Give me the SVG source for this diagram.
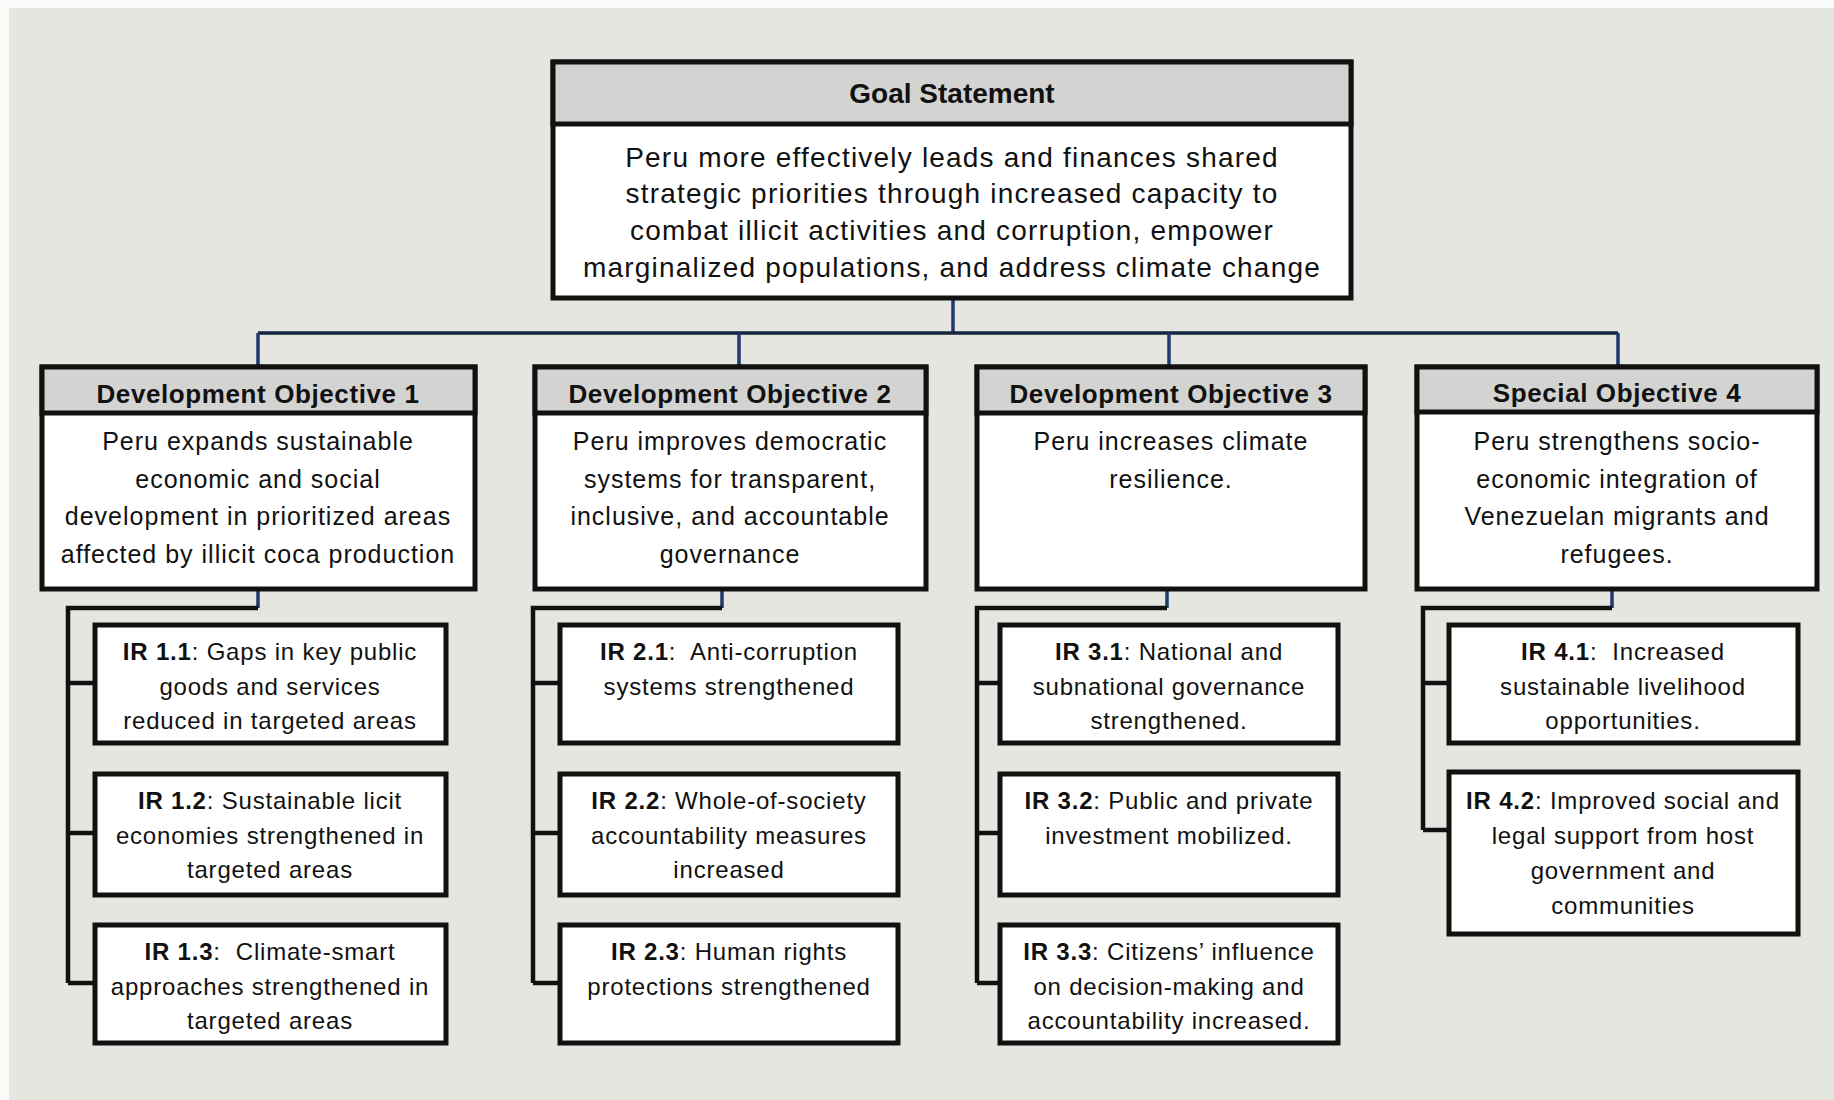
<svg xmlns="http://www.w3.org/2000/svg" width="1834" height="1100" viewBox="0 0 1834 1100">
<style>
.box{fill:#fff;stroke:#111;stroke-width:5}
.hdr{fill:#d3d3d1;stroke:#111;stroke-width:5}
.t{font-family:"Liberation Sans",Arial,sans-serif;fill:#111;text-anchor:middle}
.gt{font-size:28px;font-weight:bold}
.gb{font-size:28px;letter-spacing:1.2px}
.dt{font-size:26px;font-weight:bold;letter-spacing:0.6px}
.db{font-size:25px;letter-spacing:1px}
.ir{font-size:24px;letter-spacing:0.8px}
.b{font-weight:bold}
.bus{stroke:#16233f;stroke-width:3.5;fill:none}
.drop{stroke:#1f3a6e;stroke-width:3.5;fill:none}
.sp{stroke:#111;stroke-width:4.5;fill:none}
</style>
<rect x="0" y="0" width="1834" height="1100" fill="#fbfbfa"/>
<rect x="9" y="8" width="1825" height="1092" fill="#e6e6e1"/>

<g id="connectors">
<path class="drop" d="M953 300V333"/>
<path class="bus" d="M258 333H1618"/>
<path class="drop" d="M258 333V366M739 333V366M1169 333V366M1618 333V366"/>
<path class="drop" d="M258 591V608M722 591V608M1167 591V608M1612 591V608"/>
<path class="sp" d="M258 608H68V983M68 683H93M68 833H93M68 983H93"/>
<path class="sp" d="M722 608H533V983M533 683H558M533 833H558M533 983H558"/>
<path class="sp" d="M1167 608H977V983M977 683H998M977 833H998M977 983H998"/>
<path class="sp" d="M1612 608H1423V830M1423 683H1447M1423 830H1447"/>
</g>

<g id="goal">
<rect class="box" x="553" y="62" width="798" height="236"/>
<rect class="hdr" x="553" y="62" width="798" height="62"/>
<text class="t gt" x="952" y="103">Goal Statement</text>
<text class="t gb" x="952" y="167">Peru more effectively leads and finances shared</text>
<text class="t gb" x="952" y="203">strategic priorities through increased capacity to</text>
<text class="t gb" x="952" y="240">combat illicit activities and corruption, empower</text>
<text class="t gb" x="952" y="277">marginalized populations, and address climate change</text>
</g>

<g id="do1">
<rect class="box" x="42" y="367" width="433" height="222"/>
<rect class="hdr" x="42" y="367" width="433" height="46"/>
<text class="t dt" x="258" y="403">Development Objective 1</text>
<text class="t db" x="258" y="450">Peru expands sustainable</text>
<text class="t db" x="258" y="488">economic and social</text>
<text class="t db" x="258" y="525">development in prioritized areas</text>
<text class="t db" x="258" y="563">affected by illicit coca production</text>
</g>

<g id="do2">
<rect class="box" x="535" y="367" width="391" height="222"/>
<rect class="hdr" x="535" y="367" width="391" height="46"/>
<text class="t dt" x="730" y="403">Development Objective 2</text>
<text class="t db" x="730" y="450">Peru improves democratic</text>
<text class="t db" x="730" y="488">systems for transparent,</text>
<text class="t db" x="730" y="525">inclusive, and accountable</text>
<text class="t db" x="730" y="563">governance</text>
</g>

<g id="do3">
<rect class="box" x="977" y="367" width="388" height="222"/>
<rect class="hdr" x="977" y="367" width="388" height="46"/>
<text class="t dt" x="1171" y="403">Development Objective 3</text>
<text class="t db" x="1171" y="450">Peru increases climate</text>
<text class="t db" x="1171" y="488">resilience.</text>
</g>

<g id="so4">
<rect class="box" x="1417" y="367" width="400" height="222"/>
<rect class="hdr" x="1417" y="367" width="400" height="45"/>
<text class="t dt" x="1617" y="402">Special Objective 4</text>
<text class="t db" x="1617" y="450">Peru strengthens socio-</text>
<text class="t db" x="1617" y="488">economic integration of</text>
<text class="t db" x="1617" y="525">Venezuelan migrants and</text>
<text class="t db" x="1617" y="563">refugees.</text>
</g>

<g id="ir11">
<rect class="box" x="95" y="625" width="351" height="118"/>
<text class="t ir" x="270" y="660"><tspan class="b">IR 1.1</tspan>: Gaps in key public</text>
<text class="t ir" x="270" y="695">goods and services</text>
<text class="t ir" x="270" y="729">reduced in targeted areas</text>
</g>
<g id="ir12">
<rect class="box" x="95" y="774" width="351" height="121"/>
<text class="t ir" x="270" y="809"><tspan class="b">IR 1.2</tspan>: Sustainable licit</text>
<text class="t ir" x="270" y="844">economies strengthened in</text>
<text class="t ir" x="270" y="878">targeted areas</text>
</g>
<g id="ir13">
<rect class="box" x="95" y="925" width="351" height="118"/>
<text class="t ir" x="270" y="960"><tspan class="b">IR 1.3</tspan>:&#160; Climate-smart</text>
<text class="t ir" x="270" y="995">approaches strengthened in</text>
<text class="t ir" x="270" y="1029">targeted areas</text>
</g>

<g id="ir21">
<rect class="box" x="560" y="625" width="338" height="118"/>
<text class="t ir" x="729" y="660"><tspan class="b">IR 2.1</tspan>:&#160; Anti-corruption</text>
<text class="t ir" x="729" y="695">systems strengthened</text>
</g>
<g id="ir22">
<rect class="box" x="560" y="774" width="338" height="121"/>
<text class="t ir" x="729" y="809"><tspan class="b">IR 2.2</tspan>: Whole-of-society</text>
<text class="t ir" x="729" y="844">accountability measures</text>
<text class="t ir" x="729" y="878">increased</text>
</g>
<g id="ir23">
<rect class="box" x="560" y="925" width="338" height="118"/>
<text class="t ir" x="729" y="960"><tspan class="b">IR 2.3</tspan>: Human rights</text>
<text class="t ir" x="729" y="995">protections strengthened</text>
</g>

<g id="ir31">
<rect class="box" x="1000" y="625" width="338" height="118"/>
<text class="t ir" x="1169" y="660"><tspan class="b">IR 3.1</tspan>: National and</text>
<text class="t ir" x="1169" y="695">subnational governance</text>
<text class="t ir" x="1169" y="729">strengthened.</text>
</g>
<g id="ir32">
<rect class="box" x="1000" y="774" width="338" height="121"/>
<text class="t ir" x="1169" y="809"><tspan class="b">IR 3.2</tspan>: Public and private</text>
<text class="t ir" x="1169" y="844">investment mobilized.</text>
</g>
<g id="ir33">
<rect class="box" x="1000" y="925" width="338" height="118"/>
<text class="t ir" x="1169" y="960"><tspan class="b">IR 3.3</tspan>: Citizens’ influence</text>
<text class="t ir" x="1169" y="995">on decision-making and</text>
<text class="t ir" x="1169" y="1029">accountability increased.</text>
</g>

<g id="ir41">
<rect class="box" x="1449" y="625" width="349" height="118"/>
<text class="t ir" x="1623" y="660"><tspan class="b">IR 4.1</tspan>:&#160; Increased</text>
<text class="t ir" x="1623" y="695">sustainable livelihood</text>
<text class="t ir" x="1623" y="729">opportunities.</text>
</g>
<g id="ir42">
<rect class="box" x="1449" y="772" width="349" height="162"/>
<text class="t ir" x="1623" y="809"><tspan class="b">IR 4.2</tspan>: Improved social and</text>
<text class="t ir" x="1623" y="844">legal support from host</text>
<text class="t ir" x="1623" y="879">government and</text>
<text class="t ir" x="1623" y="914">communities</text>
</g>
</svg>
